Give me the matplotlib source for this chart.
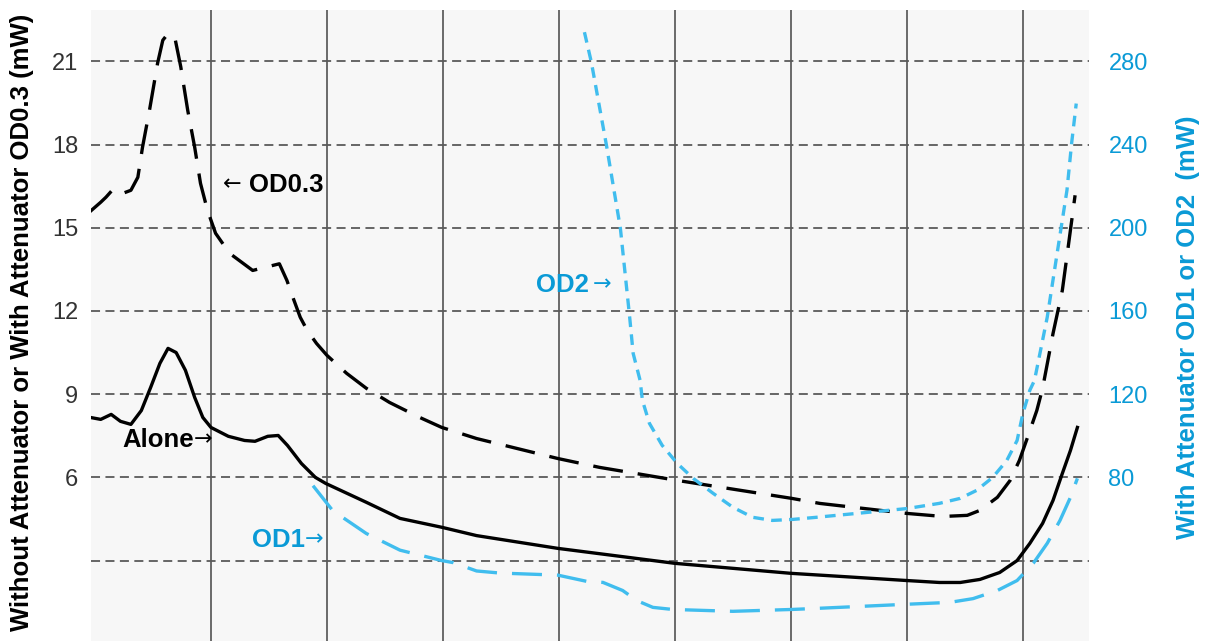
import matplotlib.pyplot as plt
import numpy as np

# x positions are in grid-division units (vertical lines at 1..8)
alone_x = [-0.04, 0.05, 0.14, 0.22, 0.31, 0.40, 0.48, 0.56, 0.63, 0.70, 0.78, 0.86, 0.93, 1.0, 1.15,
           1.29, 1.38, 1.49, 1.58, 1.66, 1.78, 1.90, 1.99, 2.34, 2.63, 2.99, 3.29, 3.99, 5.0, 6.0,
           7.0, 7.28, 7.46, 7.63, 7.80, 7.95, 8.06, 8.17, 8.26, 8.34, 8.41, 8.47]
alone_y = [8.16, 8.09, 8.27, 8.02, 7.91, 8.41, 9.24, 10.11, 10.65, 10.5, 9.86, 8.88, 8.16, 7.80, 7.48,
           7.33, 7.30, 7.48, 7.51, 7.15, 6.50, 6.0, 5.78, 5.1, 4.52, 4.2, 3.9, 3.44, 2.9, 2.54,
           2.28, 2.21, 2.21, 2.32, 2.57, 3.0, 3.62, 4.34, 5.17, 6.14, 6.97, 7.8]

od03_x = [-0.046, 0.05, 0.095, 0.155, 0.24, 0.31, 0.37, 0.41, 0.47, 0.54, 0.585, 0.63, 0.69, 0.74,
          0.80, 0.86, 0.91, 0.97, 1.04, 1.16, 1.36, 1.59, 1.655, 1.71, 1.77, 1.83, 1.91, 2.0, 2.17,
          2.34, 2.54, 2.80, 2.99, 3.29, 3.99, 4.35, 5.02, 6.01, 6.25, 7.0, 7.31, 7.52, 7.63, 7.78,
          7.89, 7.97, 8.04, 8.12, 8.17, 8.26, 8.34, 8.39, 8.45]
od03_y = [15.57, 15.92, 16.1, 16.38, 16.24, 16.35, 16.82, 17.9, 19.23, 20.93, 21.76, 22.0, 21.83, 20.8,
          19.23, 17.9, 16.6, 15.63, 14.8, 14.08, 13.46, 13.7, 13.1, 12.45, 11.77, 11.3, 10.83, 10.4, 9.75,
          9.21, 8.7, 8.16, 7.8, 7.4, 6.68, 6.36, 5.89, 5.24, 5.06, 4.7, 4.59, 4.63, 4.81, 5.28,
          5.89, 6.61, 7.44, 8.41, 9.21, 11.19, 12.74, 14.29, 16.17]

# right axis series, mW
od1_x = [1.88, 2.05, 2.34, 2.63, 2.99, 3.09, 3.29, 3.49, 3.99, 4.24, 4.38, 4.55, 4.67, 4.81, 4.98, 5.5,
         6.01, 6.22, 7.0, 7.37, 7.57, 7.78, 7.95, 8.09, 8.21, 8.32, 8.41, 8.47]
od1_y = [76, 64, 53, 45, 40, 39, 35, 34, 33, 30, 29.5, 25.6, 20.8, 17.5, 16.5, 15.6,
         16.5, 17, 19, 19.9, 21.7, 25.6, 30.4, 38.7, 48.3, 59.3, 70.4, 79.5]

od2_x = [4.22, 4.28, 4.41, 4.53, 4.61, 4.64, 4.70, 4.72, 4.78, 4.89, 5.02, 5.16, 5.33, 5.5, 5.67, 5.84,
         6.02, 6.22, 7.0, 7.28, 7.46, 7.6, 7.74, 7.86, 7.95, 8.0, 8.06, 8.10, 8.21, 8.29, 8.38, 8.42, 8.46]
od2_y = [294, 279.5, 239.6, 199.7, 157, 139.6, 126.6, 117, 106, 95.4, 86.7, 79.4, 72.3, 65.6, 60.8, 59.3,
         59.8, 60.8, 65, 67.5, 69.9, 73.7, 80, 88, 97.7, 110.7, 121.9, 126.6, 157, 185.8, 218, 240.5, 259.7]

left_ticks = [3, 6, 9, 12, 15, 18, 21]
left_labels = ['', '6', '9', '12', '15', '18', '21']
right_ticks = [80, 120, 160, 200, 240, 280]

blue_line = '#40bdee'
blue_text = '#0a9ad6'
ratio = 40 / 3
arrow_font = ['DejaVu Sans']

plt.rcParams['font.family'] = ['Liberation Sans', 'DejaVu Sans']

fig = plt.figure(figsize=(12.08, 6.41), dpi=100)
ax = fig.add_axes([91/1208, 0, 998/1208, 631/641])
ax.set_facecolor('#f7f7f7')
ax.set_xlim(-0.034, 8.57)
ax.set_ylim(0.1, 22.85)

ax.set_xticks(range(1, 9))
ax.set_xticklabels([])
ax.tick_params(axis='x', length=0)
ax.xaxis.grid(True, color='#6a6a6a', lw=1.4, ls='-')
ax.set_yticks(left_ticks)
ax.set_yticklabels(left_labels)
ax.yaxis.grid(True, color='#5a5a5a', lw=1.3, ls=(0, (5, 3)))
ax.tick_params(axis='y', length=0, pad=9, labelsize=17, labelcolor='#333333')
ax.set_axisbelow(True)
for s in ax.spines.values():
    s.set_visible(False)

ax.plot(alone_x, alone_y, color='black', lw=2.4, solid_joinstyle='round')
ax.plot(od03_x, od03_y, color='black', lw=2.4, dashes=(9, 4.5), dash_capstyle='butt')

ax2 = ax.twinx()
ax2.set_ylim(0.1 * ratio, 22.85 * ratio)
ax2.set_yticks(right_ticks)
ax2.tick_params(axis='y', length=0, pad=14, labelsize=17, labelcolor=blue_text)
for s in ax2.spines.values():
    s.set_visible(False)
ax2.plot(od1_x, od1_y, color=blue_line, lw=2.4, dashes=(9, 4.5), dash_capstyle='butt')
ax2.plot(od2_x, od2_y, color=blue_line, lw=2.4, dashes=(3.2, 2.2), dash_capstyle='butt')

# annotations
ax.text(0.85, 7.33, 'Alone', fontsize=18.5, fontweight='bold', ha='right', va='center')
ax.text(1.012, 7.36, '→', fontsize=16, ha='right', va='center', family=arrow_font)
ax.text(1.10, 16.56, '←', fontsize=16, ha='left', va='center', family=arrow_font)
ax.text(1.33, 16.53, 'OD0.3', fontsize=18.5, fontweight='bold', ha='left', va='center')
ax.text(1.81, 3.73, 'OD1', fontsize=18.5, fontweight='bold', ha='right', va='center', color=blue_text)
ax.text(1.97, 3.76, '→', fontsize=16, ha='right', va='center', color=blue_text, family=arrow_font)
ax.text(4.26, 12.92, 'OD2', fontsize=18.5, fontweight='bold', ha='right', va='center', color=blue_text)
ax.text(4.45, 12.95, '→', fontsize=16, ha='right', va='center', color=blue_text, family=arrow_font)

fig.text(22/1208, 1 - 322/641, 'Without Attenuator or With Attenuator OD0.3 (mW)', rotation=90,
         ha='center', va='center', fontsize=18.5, fontweight='bold')
fig.text(1188/1208, 1 - 327/641, 'With Attenuator OD1 or OD2  (mW)', rotation=90,
         ha='center', va='center', fontsize=18.5, fontweight='bold', color=blue_text)

fig.savefig('out.png', dpi=100)
